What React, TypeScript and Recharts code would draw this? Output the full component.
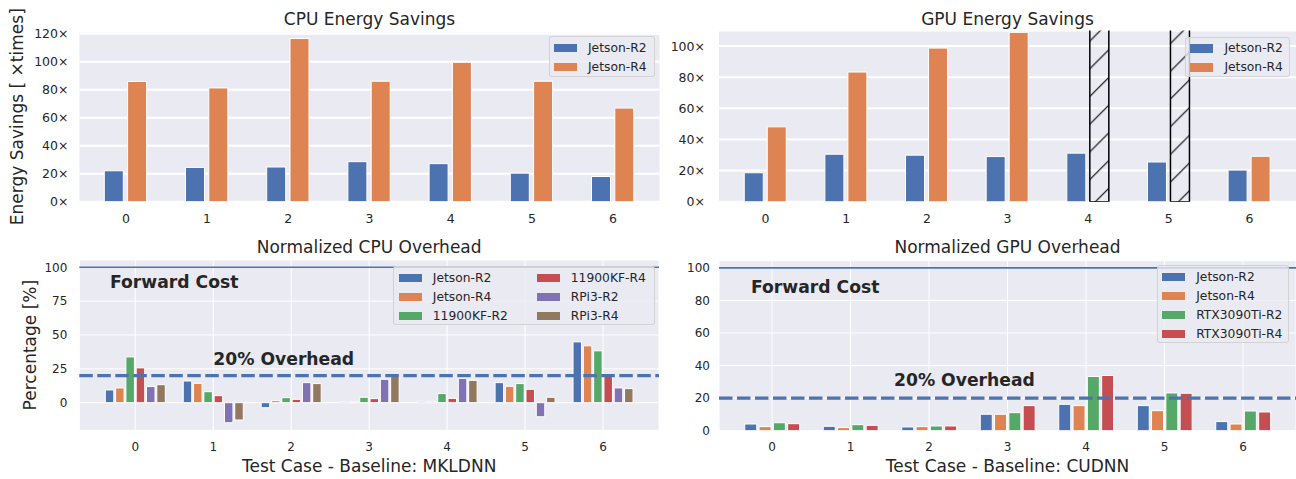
import React from "react";
import { Bar, BarChart, CartesianGrid, Cell, Legend, ReferenceLine, XAxis, YAxis } from "recharts";

// test cases on the x axis
const cases = ["0", "1", "2", "3", "4", "5", "6"];

// energy savings [x times]
const cpuSavingsR2 = [22.1, 24.5, 24.8, 28.6, 27.2, 20.4, 18.0];
const cpuSavingsR4 = [85.9, 81.3, 116.6, 86.1, 99.6, 86.1, 66.9];
const gpuSavingsR2 = [18.6, 30.5, 29.9, 29.0, 31.2, 25.5, 20.3];
// cases 4 and 5 run off the top of the axis (drawn hatched)
const gpuSavingsR4 = [48.1, 83.3, 98.7, 108.8, 150, 150, 29.2];
const gpuSavingsOffScale = [false, false, false, false, true, true, false];

// normalized overhead [%]
const cpuJetsonR2 = [9.4, 16.0, -3.7, 0.7, 1.0, 14.8, 44.9];
const cpuJetsonR4 = [10.9, 14.3, 1.5, 0.5, 1.0, 12.1, 42.0];
const cpu11900R2 = [33.8, 8.1, 3.7, 4.0, 6.7, 14.1, 38.3];
const cpu11900R4 = [25.7, 5.2, 2.5, 3.0, 3.2, 9.9, 20.7];
const cpuRpiR2 = [11.9, -14.8, 14.8, 17.3, 18.0, -10.4, 10.9];
const cpuRpiR4 = [13.3, -12.8, 14.1, 19.3, 16.5, 4.0, 10.4];

const gpuJetsonR2 = [4.1, 2.7, 2.3, 10.1, 16.2, 15.4, 5.6];
const gpuJetsonR4 = [2.5, 1.9, 2.5, 10.1, 15.4, 12.3, 4.1];
const gpuRtxR2 = [4.9, 3.7, 2.9, 11.1, 33.3, 23.2, 12.1];
const gpuRtxR4 = [4.3, 3.3, 2.9, 15.4, 33.9, 23.0, 11.5];

const savingsTicks = [0, 20, 40, 60, 80, 100, 120];
const gpuSavingsTicks = [0, 20, 40, 60, 80, 100];
const cpuOverheadTicks = [0, 25, 50, 75, 100];
const gpuOverheadTicks = [0, 20, 40, 60, 80, 100];

const FORWARD_COST = 100;
const OVERHEAD_LIMIT = 20;

const BLUE = "#4C72B0";
const ORANGE = "#DD8452";
const GREEN = "#55A868";
const RED = "#C44E52";
const PURPLE = "#8172B3";
const BROWN = "#937860";
const BG = "#EAEAF2";
const INK = "#262626";
const FONT = "'DejaVu Sans', sans-serif";

const savingsSeries = [
  { key: "r2", name: "Jetson-R2", color: BLUE },
  { key: "r4", name: "Jetson-R4", color: ORANGE },
];

const cpuOverheadSeries = [
  { key: "jr2", name: "Jetson-R2", color: BLUE },
  { key: "jr4", name: "Jetson-R4", color: ORANGE },
  { key: "kr2", name: "11900KF-R2", color: GREEN },
  { key: "kr4", name: "11900KF-R4", color: RED },
  { key: "pr2", name: "RPi3-R2", color: PURPLE },
  { key: "pr4", name: "RPi3-R4", color: BROWN },
];

const gpuOverheadSeries = [
  { key: "jr2", name: "Jetson-R2", color: BLUE },
  { key: "jr4", name: "Jetson-R4", color: ORANGE },
  { key: "tr2", name: "RTX3090Ti-R2", color: GREEN },
  { key: "tr4", name: "RTX3090Ti-R4", color: RED },
];

const cpuSavingsRows = cases.map((c, i) => ({ case: c, r2: cpuSavingsR2[i], r4: cpuSavingsR4[i] }));
const gpuSavingsRows = cases.map((c, i) => ({ case: c, r2: gpuSavingsR2[i], r4: gpuSavingsR4[i] }));
const cpuOverheadRows = cases.map((c, i) => ({
  case: c,
  jr2: cpuJetsonR2[i],
  jr4: cpuJetsonR4[i],
  kr2: cpu11900R2[i],
  kr4: cpu11900R4[i],
  pr2: cpuRpiR2[i],
  pr4: cpuRpiR4[i],
}));
const gpuOverheadRows = cases.map((c, i) => ({
  case: c,
  jr2: gpuJetsonR2[i],
  jr4: gpuJetsonR4[i],
  tr2: gpuRtxR2[i],
  tr4: gpuRtxR4[i],
}));

const tickTop = { fill: INK, fontSize: 12.5 };
const tickBottom = { fill: INK, fontSize: 12 };

type Item = { name: string; color: string };

function LegendBox({ items, rows, colWidth }: { items: Item[]; rows: number; colWidth: number }) {
  return (
    <div
      style={{
        width: "100%",
        height: "100%",
        boxSizing: "border-box",
        background: "rgba(234,234,242,0.8)",
        border: "1px solid rgba(204,204,204,0.8)",
        borderRadius: 3,
        padding: "1.2px 0 0 4.4px",
        display: "grid",
        gridTemplateRows: `repeat(${rows}, 19px)`,
        gridAutoFlow: "column",
        gridAutoColumns: `${colWidth}px`,
        fontFamily: FONT,
      }}
    >
      {items.map((it) => (
        <div key={it.name} style={{ display: "flex", alignItems: "center", fontSize: 12.3, color: INK, whiteSpace: "nowrap" }}>
          <span style={{ width: 23, height: 8.3, background: it.color, marginRight: 11, flex: "none" }} />
          {it.name}
        </div>
      ))}
    </div>
  );
}

const note = (text: string, dx: number, dy: number) => (props: any) => {
  const vb = props.viewBox || { x: 0, y: 0 };
  return (
    <text x={vb.x + dx} y={vb.y + dy} fontSize={17.2} fontWeight="bold" fill={INK} fontFamily={FONT}>
      {text}
    </text>
  );
};

function Title({ text, top, left, width }: { text: string; top: number; left: number; width: number }) {
  return (
    <div
      style={{
        position: "absolute",
        top,
        left,
        width,
        textAlign: "center",
        fontSize: 17,
        lineHeight: "20px",
        color: INK,
        zIndex: 2,
      }}
    >
      {text}
    </div>
  );
}

export default function App() {
  return (
    <div style={{ position: "absolute", left: 0, top: 0, width: 1296, height: 479, background: "#fff", fontFamily: FONT, overflow: "hidden" }}>
      {/* CPU energy savings */}
      <div style={{ position: "absolute", left: 0, top: 0, width: 660, height: 230 }}>
        <Title text="CPU Energy Savings" top={9.1} left={79.5} width={580} />
        <BarChart width={660} height={230} data={cpuSavingsRows} margin={{ top: 31.7, right: 0.5, bottom: 0, left: 0 }} barSize={19} barGap={4.3}>
          <CartesianGrid vertical={false} fill={BG} fillOpacity={1} stroke="#fff" strokeWidth={2} />
          <XAxis dataKey="case" height={28.3} padding={{ left: 5.8, right: 5.8 }} interval={0} tickLine={false} axisLine={false} tickSize={0} tickMargin={12} tick={tickTop} />
          <YAxis
            width={79.5}
            domain={[0, 121.5]}
            ticks={savingsTicks}
            tickFormatter={(v) => `${v}×`}
            tickLine={false}
            axisLine={false}
            tickSize={0}
            tickMargin={11}
            tick={tickTop}
            label={{ value: "Energy Savings [ ×times]", angle: -90, position: "insideLeft", offset: 16.7, fill: INK, fontSize: 17, style: { textAnchor: "middle" } }}
          />
          {savingsSeries.map((s) => (
            <Bar key={s.key} dataKey={s.key} name={s.name} fill={s.color} stroke="#fff" strokeWidth={1} isAnimationActive={false} />
          ))}
          <Legend
            layout="horizontal"
            verticalAlign="middle"
            align="center"
            wrapperStyle={{ left: 548.6, top: 36, width: 106.2, height: 41.3 }}
            content={() => <LegendBox items={savingsSeries} rows={2} colWidth={100} />}
          />
        </BarChart>
      </div>

      {/* GPU energy savings */}
      <div style={{ position: "absolute", left: 660, top: 0, width: 636, height: 230 }}>
        <Title text="GPU Energy Savings" top={9.1} left={59} width={577} />
        <BarChart width={636} height={230} data={gpuSavingsRows} margin={{ top: 30.5, right: 0, bottom: 0, left: 0 }} barSize={19} barGap={4}>
          <defs>
            <pattern id="hatch" patternUnits="userSpaceOnUse" width="27.7" height="27.7">
              <path d="M0,27.7 L27.7,0 M-2,2 L2,-2 M25.7,29.7 L29.7,25.7" stroke="#000" strokeWidth="1.1" />
            </pattern>
          </defs>
          <CartesianGrid vertical={false} fill={BG} fillOpacity={1} stroke="#fff" strokeWidth={2} />
          <XAxis dataKey="case" height={28.3} padding={{ left: 6.25, right: 6.25 }} interval={0} tickLine={false} axisLine={false} tickSize={0} tickMargin={12} tick={tickTop} />
          <YAxis
            width={59}
            domain={[0, 110]}
            allowDataOverflow
            ticks={gpuSavingsTicks}
            tickFormatter={(v) => `${v}×`}
            tickLine={false}
            axisLine={false}
            tickSize={0}
            tickMargin={14}
            tick={tickTop}
          />
          <Bar dataKey="r2" name="Jetson-R2" fill={BLUE} stroke="#fff" strokeWidth={1} isAnimationActive={false} />
          <Bar dataKey="r4" name="Jetson-R4" fill={ORANGE} stroke="#fff" strokeWidth={1} isAnimationActive={false}>
            {gpuSavingsRows.map((r, i) =>
              gpuSavingsOffScale[i] ? (
                <Cell key={r.case} fill="url(#hatch)" stroke="#000" strokeWidth={1.5} />
              ) : (
                <Cell key={r.case} fill={ORANGE} stroke="#fff" strokeWidth={1} />
              )
            )}
          </Bar>
          <Legend
            layout="horizontal"
            verticalAlign="middle"
            align="center"
            wrapperStyle={{ left: 525, top: 36.7, width: 105, height: 40.3 }}
            content={() => <LegendBox items={savingsSeries} rows={2} colWidth={100} />}
          />
        </BarChart>
      </div>

      {/* CPU overhead */}
      <div style={{ position: "absolute", left: 0, top: 230, width: 660, height: 249 }}>
        <Title text="Normalized CPU Overhead" top={7.4} left={79.3} width={579.7} />
        <BarChart width={660} height={249} data={cpuOverheadRows} margin={{ top: 30, right: 1, bottom: 0, left: 0 }} barSize={8.5} barGap={1.8}>
          <CartesianGrid fill={BG} fillOpacity={1} stroke="#fff" strokeWidth={1} />
          <XAxis
            dataKey="case"
            height={48.7}
            padding={{ left: 17, right: 17 }}
            interval={0}
            tickLine={false}
            axisLine={false}
            tickSize={0}
            tickMargin={12}
            tick={tickBottom}
            label={{ value: "Test Case - Baseline: MKLDNN", position: "insideBottom", offset: 7.3, fill: INK, fontSize: 17 }}
          />
          <YAxis
            width={79.3}
            domain={[-20.4, 105.4]}
            ticks={cpuOverheadTicks}
            tickLine={false}
            axisLine={false}
            tickSize={0}
            tickMargin={12}
            tick={tickBottom}
            label={{ value: "Percentage [%]", angle: -90, position: "insideLeft", offset: 29.5, fill: INK, fontSize: 17, style: { textAnchor: "middle" } }}
          />
          {cpuOverheadSeries.map((s) => (
            <Bar key={s.key} dataKey={s.key} name={s.name} fill={s.color} stroke="#fff" strokeWidth={1} isAnimationActive={false} />
          ))}
          <ReferenceLine y={FORWARD_COST} stroke={BLUE} strokeWidth={1.6} label={note("Forward Cost", 30.7, 20.6)} />
          <ReferenceLine y={OVERHEAD_LIMIT} stroke={BLUE} strokeWidth={3.2} strokeDasharray="13.5 4.5" label={note("20% Overhead", 134, -10.7)} />
          <Legend
            layout="horizontal"
            verticalAlign="middle"
            align="center"
            wrapperStyle={{ left: 393.4, top: 36, width: 261.4, height: 59 }}
            content={() => <LegendBox items={cpuOverheadSeries} rows={3} colWidth={138} />}
          />
        </BarChart>
      </div>

      {/* GPU overhead */}
      <div style={{ position: "absolute", left: 660, top: 230, width: 636, height: 249 }}>
        <Title text="Normalized GPU Overhead" top={7.4} left={59} width={577} />
        <BarChart width={636} height={249} data={gpuOverheadRows} margin={{ top: 30.7, right: 0, bottom: 0, left: 0 }} barSize={12} barGap={2.3}>
          <CartesianGrid fill={BG} fillOpacity={1} stroke="#fff" strokeWidth={1} />
          <XAxis
            dataKey="case"
            height={48.3}
            padding={{ left: 13.75, right: 13.75 }}
            interval={0}
            tickLine={false}
            axisLine={false}
            tickSize={0}
            tickMargin={12}
            tick={tickBottom}
            label={{ value: "Test Case - Baseline: CUDNN", position: "insideBottom", offset: 7.3, fill: INK, fontSize: 17 }}
          />
          <YAxis
            width={59}
            domain={[0, 104.4]}
            ticks={gpuOverheadTicks}
            tickLine={false}
            axisLine={false}
            tickSize={0}
            tickMargin={9}
            tick={tickBottom}
          />
          {gpuOverheadSeries.map((s) => (
            <Bar key={s.key} dataKey={s.key} name={s.name} fill={s.color} stroke="#fff" strokeWidth={1} isAnimationActive={false} />
          ))}
          <ReferenceLine y={FORWARD_COST} stroke={BLUE} strokeWidth={1.6} label={note("Forward Cost", 32, 25.6)} />
          <ReferenceLine y={OVERHEAD_LIMIT} stroke={BLUE} strokeWidth={3.2} strokeDasharray="13.5 4.5" label={note("20% Overhead", 175, -12.1)} />
          <Legend
            layout="horizontal"
            verticalAlign="middle"
            align="center"
            wrapperStyle={{ left: 496.8, top: 35, width: 132.7, height: 78.3 }}
            content={() => <LegendBox items={gpuOverheadSeries} rows={4} colWidth={128} />}
          />
        </BarChart>
      </div>
    </div>
  );
}
